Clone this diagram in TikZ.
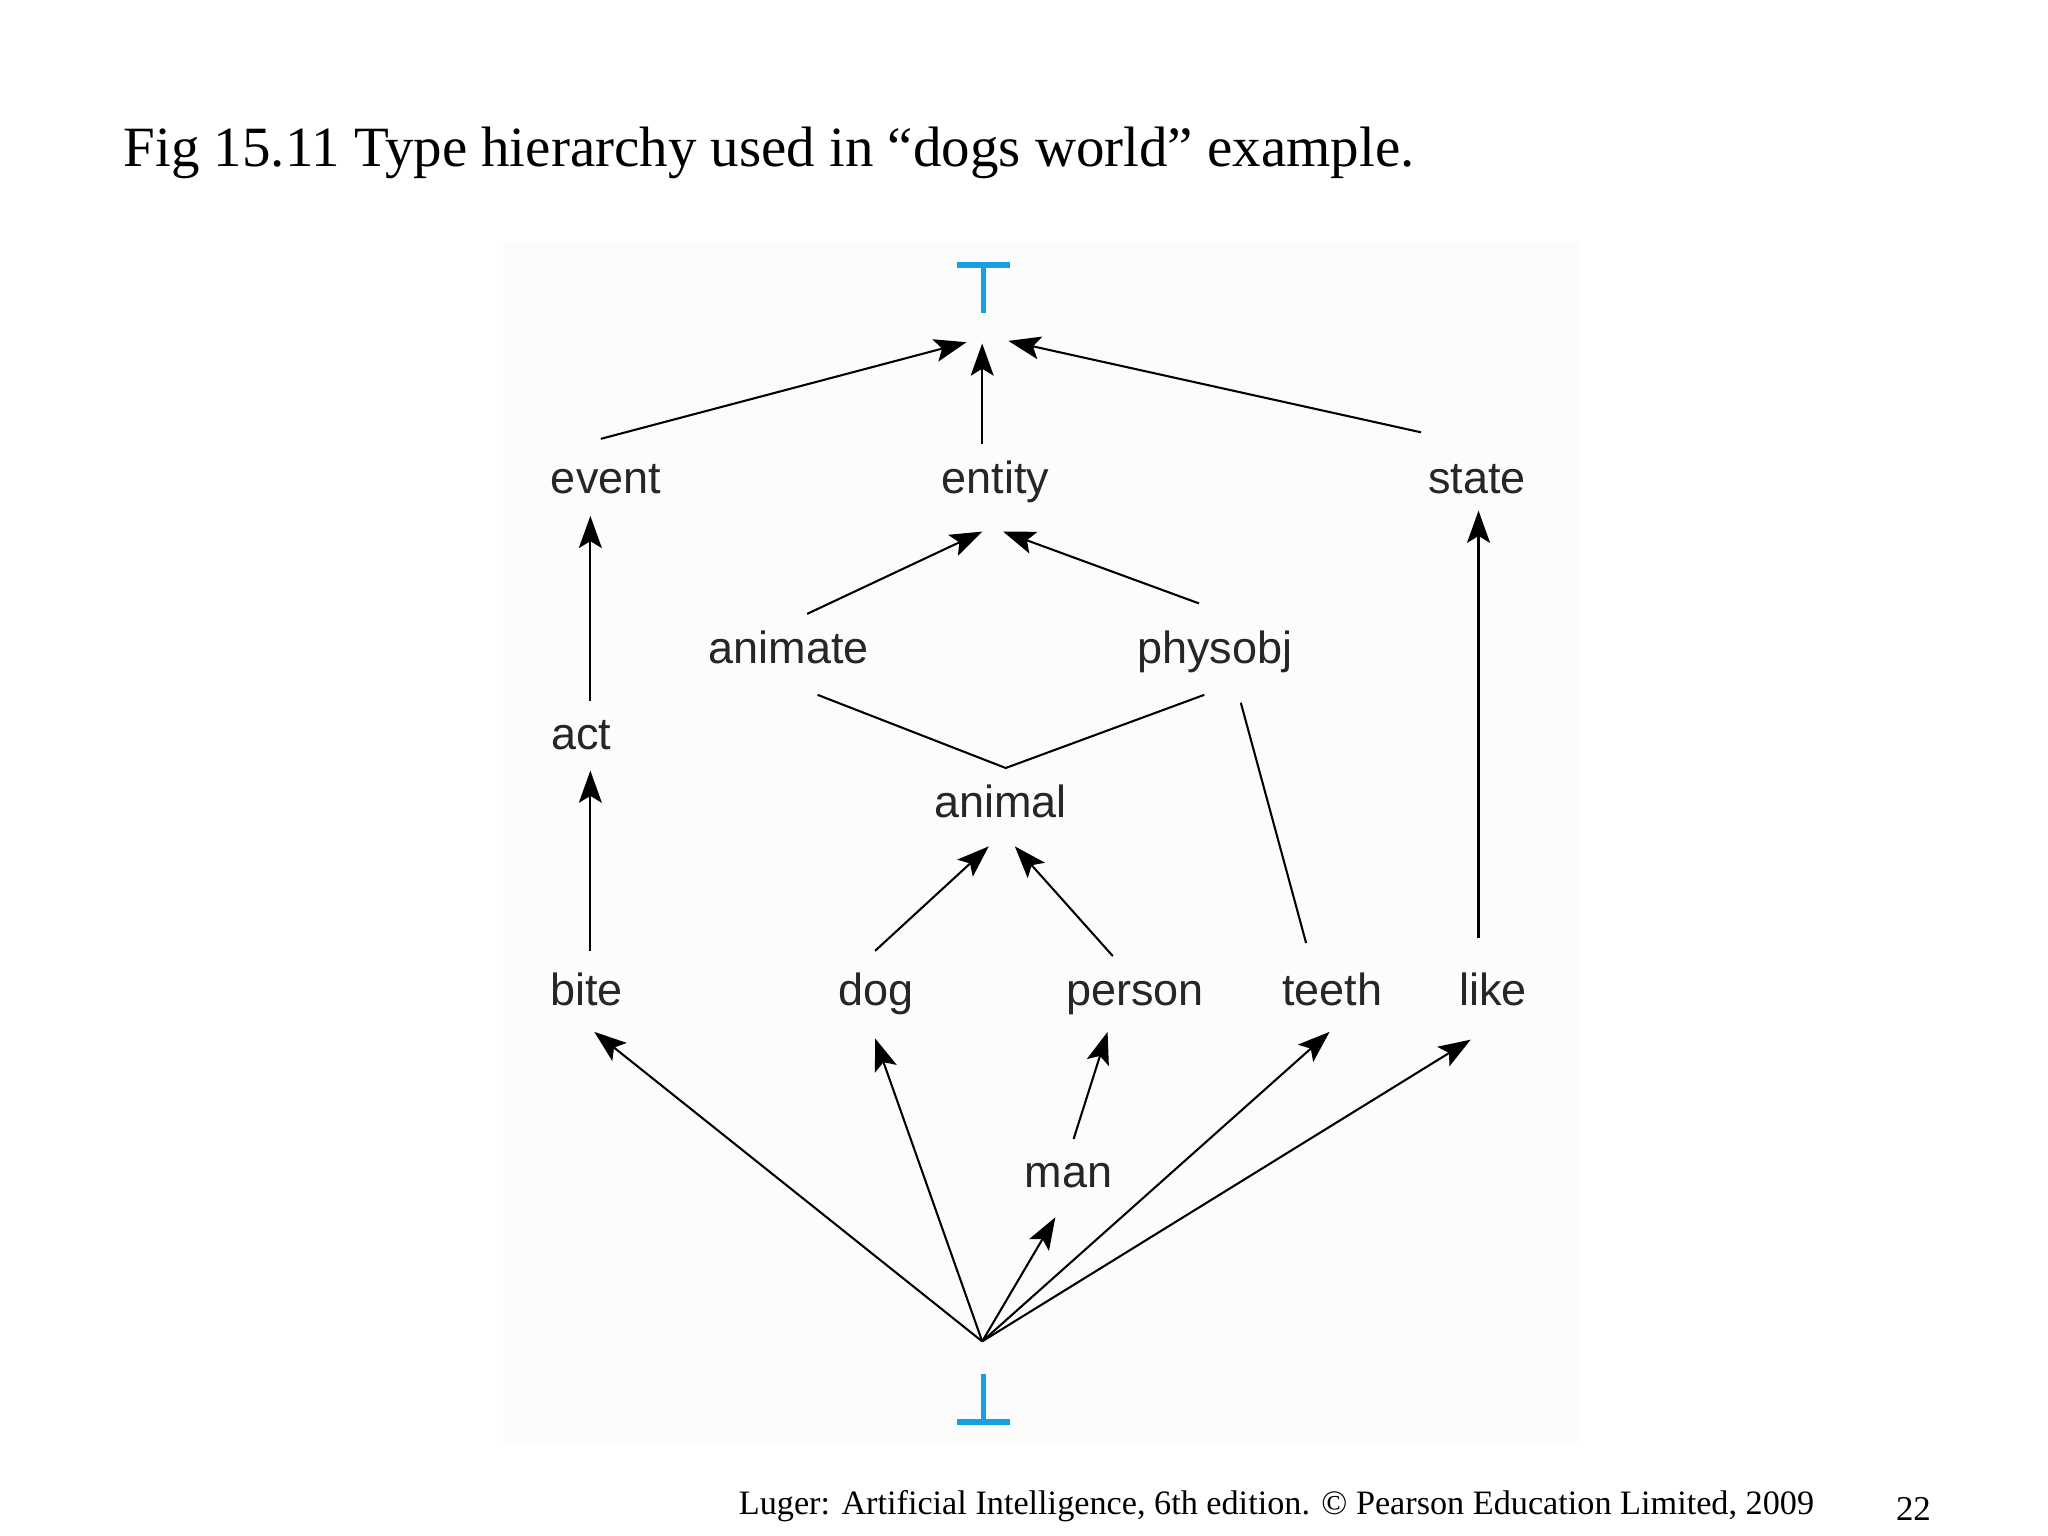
\documentclass[tikz,border=0pt]{standalone}
\usepackage{fontspec}
\setmainfont{Liberation Serif}
\newfontfamily\lab{Liberation Sans}
\usetikzlibrary{arrows.meta}
\definecolor{tb}{RGB}{20,160,225}
\begin{document}
\begin{tikzpicture}[x=0.01cm,y=-0.01cm,
  lbl/.style={font=\lab\fontsize{9.8}{11}\selectfont,text=black!85,inner sep=0,text height=7.2pt,text depth=2.1pt},
  arr/.style={line width=0.45pt,-{Stealth[length=7pt,width=5pt,inset=1.5pt]}},
  ln/.style={line width=0.45pt}]
\useasboundingbox (0,0) rectangle (1568,1176);
\fill[black!1.2] (385,185) rectangle (1210,1105);
\node[anchor=west,inner sep=0,font=\fontsize{12.4}{14}\selectfont] (title) at (94,117) {Fig 15.11 Type hierarchy used in “dogs world” example.};
\node[anchor=west,inner sep=0,font=\fontsize{7.45}{9}\selectfont] (foot) at (565,1153) {Luger: Artificial Intelligence, 6th edition. © Pearson Education Limited, 2009};
\node[inner sep=0,font=\fontsize{7.6}{9}\selectfont] (pg) at (1465,1155) {22};
% top / bottom symbols
\draw[tb,line width=1.3pt] (733,203) -- (773,203) (753,203) -- (753,240);
\draw[tb,line width=1.3pt] (733,1089) -- (773,1089) (753,1089) -- (753,1052);
\node[lbl] (event) at (464,369) {event};
\node[lbl] (entity) at (762,369) {entity};
\node[lbl] (state) at (1131,369) {state};
\node[lbl] (animate) at (604,499) {animate};
\node[lbl] (physobj) at (930,499) {physobj};
\node[lbl] (act) at (445,565) {act};
\node[lbl] (animal) at (766,617) {animal};
\node[lbl] (bite) at (449,761) {bite};
\node[lbl] (dog) at (671,761) {dog};
\node[lbl] (person) at (869,761) {person};
\node[lbl] (teeth) at (1020,761) {teeth};
\node[lbl] (like) at (1143,761) {like};
\node[lbl] (man) at (818,900) {man};
\coordinate (bot) at (752,1027);
\coordinate (tl) at (740,262); \coordinate (tc) at (752,263); \coordinate (tr) at (772,261);
\coordinate (el) at (752,407); \coordinate (er) at (768,407);
\coordinate (ap) at (770,588);
\coordinate (al) at (757,648); \coordinate (ar) at (777,648);
\draw[arr] (460,336) -- (tl);
\draw[arr] (752,340) -- (tc);
\draw[arr] (1088,331) -- (tr);
\draw[arr] (618,470) -- (el);
\draw[arr] (918,462) -- (er);
\draw[ln] (626,532) -- (ap) -- (922,532);
\draw[ln] (950,538) -- (1000,722);
\draw[arr] (452,537) -- (452,395);
\draw[arr] (452,728) -- (452,590);
\draw[arr] (1132,718) -- (1132,391);
\draw[arr] (670,728) -- (al);
\draw[arr] (852,732) -- (ar);
\draw[arr] (822,872) -- (848,790);
\draw[arr] (bot) -- (455,790);
\draw[arr] (bot) -- (670,795);
\draw[arr] (bot) -- (808,932);
\draw[arr] (bot) -- (1018,790);
\draw[arr] (bot) -- (1126,796);
\end{tikzpicture}
\end{document}
